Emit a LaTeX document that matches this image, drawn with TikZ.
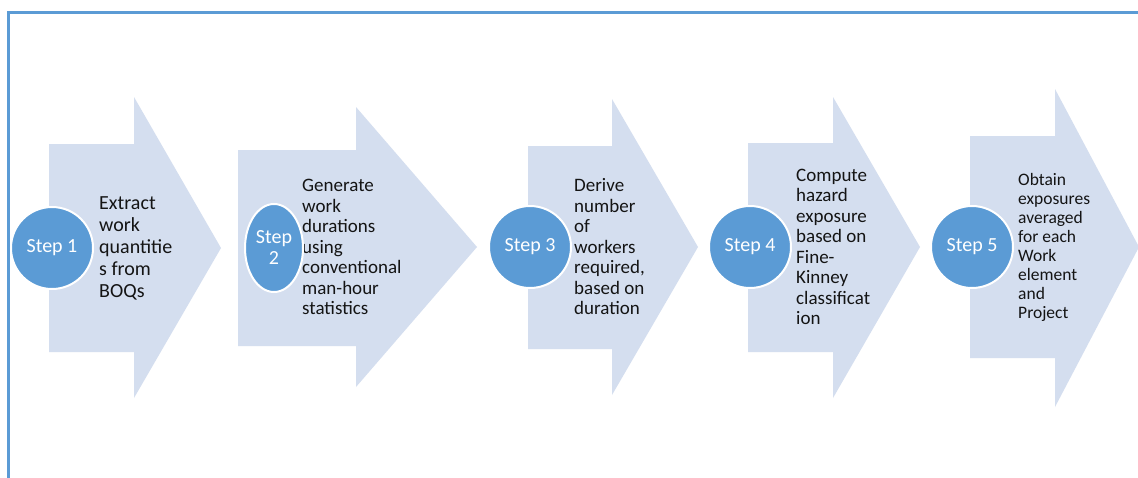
\documentclass[tikz,border=0pt]{standalone}
\usepackage{fontspec}
\setmainfont{Carlito}
\usepackage{xcolor}
\usepackage{tikz}
\usetikzlibrary{shapes.geometric, positioning}
\definecolor{stepblue}{RGB}{91, 155, 213}
\definecolor{arrowfill}{RGB}{212, 222, 239}
\definecolor{textdark}{RGB}{20, 20, 20}

\begin{document}
\begin{tikzpicture}[x=1pt, y=-1pt,
        stepcircle/.style={circle, fill=stepblue, draw=white, line width=2pt, text=white, minimum size=82pt, inner sep=0pt, font=\fontsize{20}{22}\selectfont},
        stepdesc/.style={anchor=west, align=left, inner sep=0pt, text=textdark, font=\fontsize{19}{20.5}\selectfont},
        chevron/.style={fill=arrowfill}]
        \clip (0,0) rectangle (1138,477);
        \fill[white] (0,0) rectangle (1138,477);

        % Frame
        \draw[stepblue, line width=3pt] (8,480) -- (8,12) -- (1140,12);

        % Block arrows
        \fill[chevron] (49,144) -- (134,144) -- (134,97) -- (221,248) -- (134,398) -- (134,352) -- (49,352) -- cycle;
        \fill[chevron] (238,150) -- (356,150) -- (356,107) -- (477,247) -- (356,387) -- (356,346) -- (238,346) -- cycle;
        \fill[chevron] (528,146) -- (612,146) -- (612,99) -- (698,247) -- (612,395) -- (612,349) -- (528,349) -- cycle;
        \fill[chevron] (748,143) -- (833,143) -- (833,97) -- (920,247) -- (833,398) -- (833,352) -- (748,352) -- cycle;
        \fill[chevron] (970,136) -- (1055,136) -- (1055,89) -- (1139,247) -- (1055,407) -- (1055,358) -- (970,358) -- cycle;

        % Descriptions
        \node[stepdesc, font=\fontsize{20}{22}\selectfont] (desc1) at (99,248) {Extract\\work\\quantitie\\s from\\BOQs};
        \node[stepdesc] (desc2) at (302,247) {Generate\\work\\durations\\using\\conventional\\man-hour\\statistics};
        \node[stepdesc] (desc3) at (574,247) {Derive\\number\\of\\workers\\required,\\based on\\duration};
        \node[stepdesc] (desc4) at (796,247) {Compute\\hazard\\exposure\\based on\\Fine-\\Kinney\\classificat\\ion};
        \node[stepdesc, font=\fontsize{17.5}{19}\selectfont] (desc5) at (1018,247) {Obtain\\exposures\\averaged\\for each\\Work\\element\\and\\Project};

        % Step markers
        \node[stepcircle] (step1) at (52,248) {Step 1};
        \node[stepcircle, ellipse, minimum size=0pt, minimum width=58pt, minimum height=88pt, align=center, font=\fontsize{20}{21}\selectfont] (step2) at (274,248) {Step\\2};
        \node[stepcircle] (step3) at (530,247) {Step 3};
        \node[stepcircle] (step4) at (750,247) {Step 4};
        \node[stepcircle] (step5) at (972,247) {Step 5};
    \end{tikzpicture}
\end{document}
